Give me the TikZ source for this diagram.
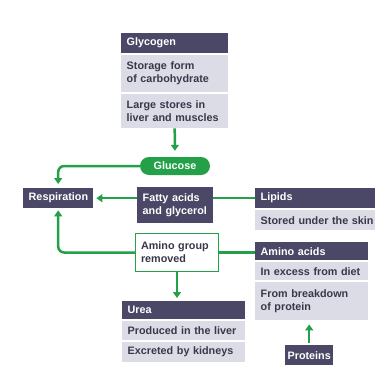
\documentclass[tikz,border=0pt]{standalone}
\usepackage{fontspec}
\setmainfont{Liberation Sans}
\usetikzlibrary{arrows.meta}
\definecolor{slate}{HTML}{4A4866}
\definecolor{pale}{HTML}{DCDCE6}
\definecolor{leaf}{HTML}{24A048}
\definecolor{ink}{HTML}{38384A}
\tikzstyle{box}=[anchor=north west,inner xsep=5.5pt,inner ysep=0pt,align=left,font=\fontsize{10.8}{13}\selectfont\bfseries]
\tikzstyle{head}=[box,fill=slate,text=white]
\tikzstyle{row}=[box,fill=pale,text=ink]
\tikzstyle{link}=[line width=2.5pt,draw=leaf]
\tikzstyle{arrow}=[link,-{Triangle[length=6pt,width=8pt]}]

\begin{document}
\begin{tikzpicture}[x=1pt,y=-1pt]

	\clip (0,0) rectangle (375,367);

	% glycogen
	\node[head,text width=96pt,minimum height=20pt] (glycogen) at (121,33) {Glycogen};
	\node[row,text width=96pt,minimum height=37pt] (glystore) at (121,55) {Storage form\\of carbohydrate};
	\node[row,text width=96pt,minimum height=34pt] (glyliver) at (121,94) {Large stores in\\liver and muscles};

	\node[fill=leaf,text=white,rounded corners=9pt,minimum width=70pt,minimum height=18pt,
		inner sep=0pt,font=\fontsize{10.8}{13}\selectfont\bfseries] (glucose) at (175,166) {Glucose};

	\node[head,text width=59pt,minimum height=20pt] (resp) at (23,188) {Respiration};
	\node[head,text width=65pt,minimum height=36pt] (fatty) at (137,187) {Fatty acids\\and glycerol};

	% lipids
	\node[head,text width=130pt,minimum height=20pt] (lipids) at (255,188) {Lipids};
	\node[row,text width=130pt,minimum height=20pt] (lipskin) at (255,210) {Stored under the skin};

	\node[box,draw=leaf,line width=1pt,fill=white,text=ink,text width=72pt,minimum height=38pt] (amgroup) at (135,233) {Amino group\\removed};

	% amino acids
	\node[head,text width=102pt,minimum height=18pt] (amino) at (255,242) {Amino acids};
	\node[row,text width=102pt,minimum height=18pt] (aminodiet) at (255,262) {In excess from diet};
	\node[row,text width=102pt,minimum height=38pt] (aminoprot) at (255,282) {From breakdown\\of protein};

	% urea
	\node[head,text width=112pt,minimum height=18pt] (urea) at (122,301) {Urea};
	\node[row,text width=112pt,minimum height=19pt] (urealiver) at (122,321) {Produced in the liver};
	\node[row,text width=112pt,minimum height=20pt] (ureakid) at (122,342) {Excreted by kidneys};

	\node[head,inner xsep=2pt,text width=44pt,align=center,minimum height=20pt] (proteins) at (285,345) {Proteins};

	% connectors
	\draw[arrow,shorten >=6pt] (glyliver.south) -- (glucose.north);
	\draw[arrow,rounded corners=6pt,shorten >=4pt] (glucose.west) -| (resp.north);
	\draw[arrow,shorten >=3pt] (fatty.west |- resp.east) -- (resp.east);
	\draw[link] (fatty.east |- lipids.west) -- (lipids.west);
	\draw[link] (amgroup.east) -- (amgroup.east -| amino.west);
	\draw[arrow,rounded corners=6pt,shorten >=2pt] (amgroup.west) -| (resp.south);
	\draw[arrow,shorten >=3pt] (amgroup.south) -- (amgroup.south |- urea.north);
	\draw[arrow,shorten <=2pt,shorten >=4pt] (proteins.north) -- (proteins.north |- aminoprot.south);
\end{tikzpicture}
\end{document}
